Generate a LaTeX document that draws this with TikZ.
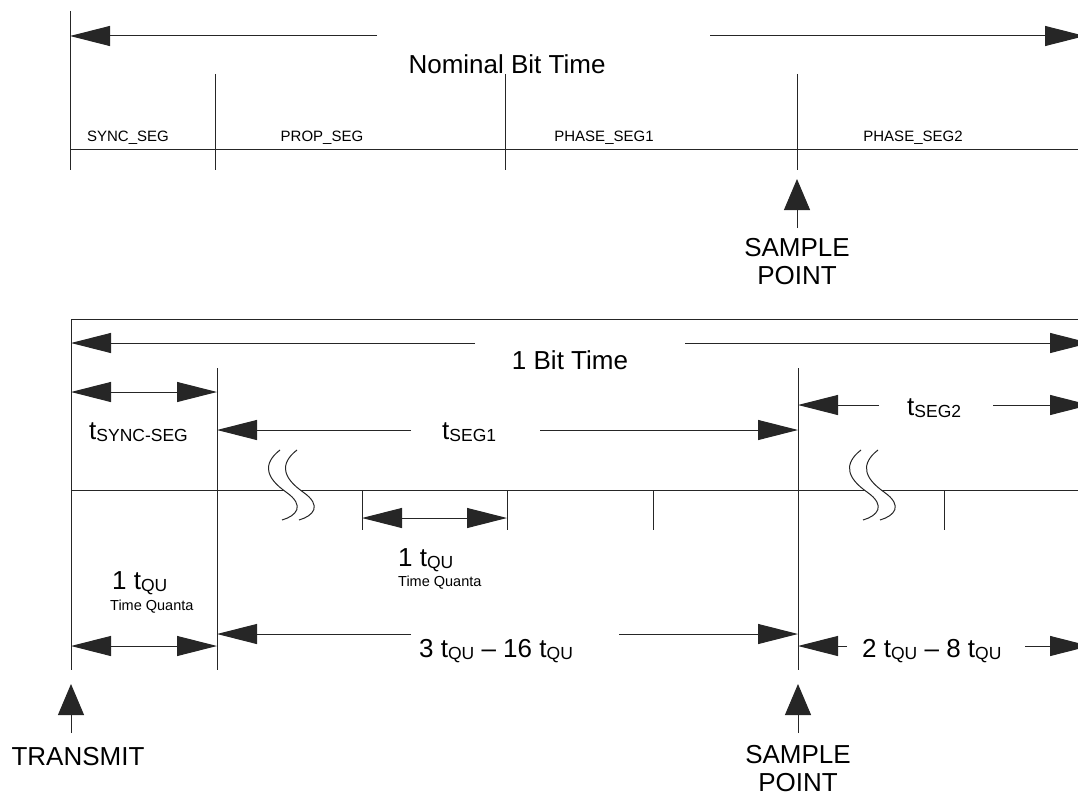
\documentclass[tikz,border=0pt]{standalone}
\usepackage{fontspec}
\setmainfont{Liberation Sans}
\usetikzlibrary{arrows.meta}

\newcommand{\bigtxt}{\fontsize{26}{28}\selectfont}
\newcommand{\segtxt}{\fontsize{15}{17}\selectfont}
\newcommand{\quantatxt}{\fontsize{14.5}{16}\selectfont}
\newcommand{\tq}[1]{t\raisebox{-2pt}{\fontsize{17.5}{18}\selectfont #1}}

\tikzset{
  rule/.style={line width=1pt, black!85},
  dimarrow/.style={rule, -{Triangle[length=40pt,width=20pt]}},
  dimboth/.style={rule, {Triangle[length=40pt,width=20pt]}-{Triangle[length=40pt,width=20pt]}},
  samplearrow/.style={rule, -{Triangle[length=31pt,width=26pt]}},
  lbl/.style={inner sep=0pt, anchor=base},
  stacked/.style={inner sep=0pt, anchor=north, align=center, font=\bigtxt},
  breakmark/.pic={
    \fill[white] (0,0) .. controls (-18,14) and (-14,28) .. (6,42) .. controls (26,56) and (16,66) .. (2,70)
      -- (19,70) .. controls (33,66) and (43,56) .. (23,42) .. controls (3,28) and (-1,14) .. (17,0) -- cycle;
    \foreach \dx in {0,17}
      \draw[rule] (\dx,0) .. controls (\dx-18,14) and (\dx-14,28) .. (\dx+6,42) .. controls (\dx+26,56) and (\dx+16,66) .. (\dx+2,70);
  }
}

\begin{document}
\begin{tikzpicture}[x=1pt, y=-1pt]
  \useasboundingbox (0,0) rectangle (1078,797);

  % Nominal bit time
  \coordinate (nomL) at (70,36);
  \coordinate (nomR) at (1085,36);
  \coordinate (nomLend) at (377,36);
  \coordinate (nomRend) at (710,36);
  \draw[dimarrow] (nomLend) -- (nomL);
  \draw[dimarrow] (nomRend) -- (nomR);
  \node[lbl] (nominal) at (507,74) {\bigtxt Nominal Bit Time};

  % Segments
  \coordinate (segtop) at (70,11);
  \coordinate (segbot) at (70,170);
  \draw[rule] (segtop) -- (segbot);
  \foreach \x/\nm in {215/a, 505/b, 797/c} {
    \coordinate (seg\nm top) at (\x,74);
    \coordinate (seg\nm bot) at (\x,170);
    \draw[rule] (seg\nm top) -- (seg\nm bot);
  }
  \coordinate (segline) at (1078,149);
  \draw[rule] (segbot |- segline) -- (segline);
  \node[lbl] (sync) at (128,141) {\segtxt SYNC\_SEG};
  \node[lbl] (prop) at (322,141) {\segtxt PROP\_SEG};
  \node[lbl] (phase1) at (604,141) {\segtxt PHASE\_SEG1};
  \node[lbl] (phase2) at (913,141) {\segtxt PHASE\_SEG2};

  % Sample point (top)
  \coordinate (smpltail) at (797,228);
  \coordinate (smpltip) at (797,179);
  \draw[samplearrow] (smpltail) -- (smpltip);
  \node[stacked] (smpl) at (797,238) {SAMPLE\\POINT};

  % Bit time frame
  \coordinate (frameL) at (71,319);
  \coordinate (frameR) at (1078,319);
  \coordinate (frameB) at (71,670);
  \draw[rule] (frameR) -- (frameL) -- (frameB);
  \coordinate (divAtop) at (217,368);
  \coordinate (divAbot) at (217,670);
  \coordinate (divBtop) at (798,368);
  \coordinate (divBbot) at (798,670);
  \draw[rule] (divAtop) -- (divAbot);
  \draw[rule] (divBtop) -- (divBbot);

  % 1 bit time
  \coordinate (bitL) at (71,343);
  \coordinate (bitR) at (1090,343);
  \draw[dimarrow] (475,343) coordinate (bitLend) -- (bitL);
  \draw[dimarrow] (685,343) coordinate (bitRend) -- (bitR);
  \node[lbl] (bittime) at (570,369) {\bigtxt 1 Bit Time};

  % tSYNC-SEG, tSEG1, tSEG2
  \draw[dimboth] (71,392) coordinate (syncL) -- (217,392) coordinate (syncR);
  \node[lbl, anchor=base west] (tsync) at (89,439) {\bigtxt\tq{SYNC-SEG}};
  \draw[dimarrow] (411,430) coordinate (seg1Lend) -- (217,430) coordinate (seg1L);
  \draw[dimarrow] (540,430) coordinate (seg1Rend) -- (798,430) coordinate (seg1R);
  \node[lbl, anchor=base west] (tseg1) at (442,439) {\bigtxt\tq{SEG1}};
  \draw[dimarrow] (879,405) coordinate (seg2Lend) -- (798,405) coordinate (seg2L);
  \draw[dimarrow] (993,405) coordinate (seg2Rend) -- (1090,405) coordinate (seg2R);
  \node[lbl, anchor=base west] (tseg2) at (907,415) {\bigtxt\tq{SEG2}};

  % Time line with quanta
  \coordinate (tlL) at (71,490);
  \coordinate (tlR) at (1078,490);
  \draw[rule] (tlL) -- (tlR);
  \foreach \x in {362, 507, 653, 944} {
    \coordinate (tick\x) at (\x,490);
    \draw[rule] (tick\x) -- (\x,530);
  }
  \pic at (280,450) {breakmark};
  \pic at (861,450) {breakmark};
  \draw[dimboth] (362,518) coordinate (quL) -- (507,518) coordinate (quR);
  \node[lbl, anchor=base west] (qu1) at (398,566) {\bigtxt 1 \tq{QU}};
  \node[lbl, anchor=base west] (qu1txt) at (398,586) {\quantatxt Time Quanta};

  % Lengths
  \node[lbl, anchor=base west] (qu0) at (112,589) {\bigtxt 1 \tq{QU}};
  \node[lbl, anchor=base west] (qu0txt) at (110,610) {\quantatxt Time Quanta};
  \draw[dimboth] (71,646) coordinate (q0L) -- (217,646) coordinate (q0R);
  \draw[dimarrow] (411,634) coordinate (lenALend) -- (217,634) coordinate (lenAL);
  \draw[dimarrow] (619,634) coordinate (lenARend) -- (798,634) coordinate (lenAR);
  \node[lbl, anchor=base west] (lenA) at (419,657) {\bigtxt 3 \tq{QU} \textendash{} 16 \tq{QU}};
  \draw[dimarrow] (847,646) coordinate (lenBLend) -- (798,646) coordinate (lenBL);
  \draw[dimarrow] (1025,646) coordinate (lenBRend) -- (1090,646) coordinate (lenBR);
  \node[lbl, anchor=base west] (lenB) at (862,657) {\bigtxt 2 \tq{QU} \textendash{} 8 \tq{QU}};

  % Transmit and sample point (bottom)
  \draw[samplearrow] (71,733) coordinate (txtail) -- (71,684) coordinate (txtip);
  \node[lbl] (transmit) at (78,765) {\bigtxt TRANSMIT};
  \draw[samplearrow] (798,733) coordinate (smpl2tail) -- (798,684) coordinate (smpl2tip);
  \node[stacked] (smpl2) at (798,745) {SAMPLE\\POINT};
\end{tikzpicture}
\end{document}
